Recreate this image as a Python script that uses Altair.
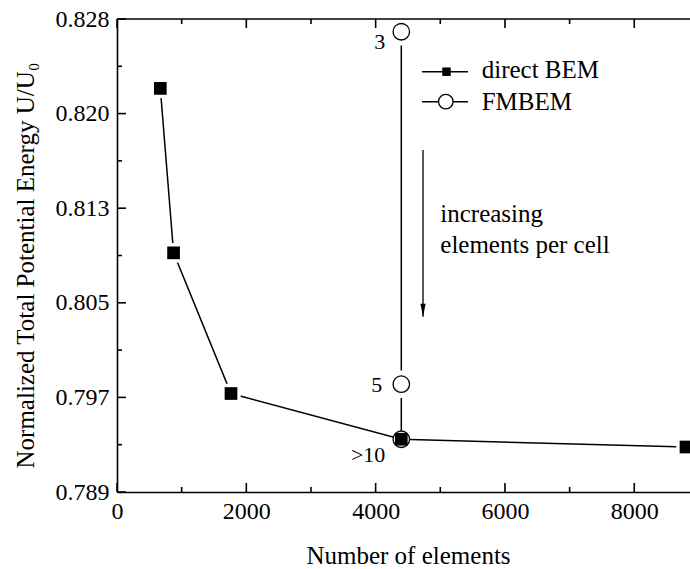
import altair as alt
import pandas as pd

# ---------------- data ----------------
direct_x = [670, 875, 1763, 4397, 8800]
direct_y = [0.82228, 0.80872, 0.79712, 0.79335, 0.79271]

fm_x = [4397, 4397, 4397]
fm_y = [0.82695, 0.79789, 0.79335]
fm_labels = ["3", "5", ">10"]

x_major = [0, 2000, 4000, 6000, 8000]
x_minor = [1000, 3000, 5000, 7000]
y_major = [0.789, 0.7968, 0.8046, 0.8124, 0.8202, 0.828]
y_minor = [0.7929, 0.8007, 0.8085, 0.8163, 0.8241]
y_labels = ["0.789", "0.797", "0.805", "0.813", "0.820", "0.828"]

arrow_x = [4733, 4733]
arrow_y = [0.81719, 0.80344]
note_x = [5000]
note_y = [0.81125]
note_text = ["increasing", "elements per cell"]

legend_names = ["direct BEM", "FMBEM"]

# ---------------- layout ----------------
W, H = 573, 473
FONT = "Liberation Serif"
xs = alt.Scale(domain=[0, 8862], nice=False, zero=False)
ys = alt.Scale(domain=[0.789, 0.828], nice=False, zero=False)

direct = pd.DataFrame({"x": direct_x, "y": direct_y, "i": range(len(direct_x))})
fm = pd.DataFrame({"x": fm_x, "y": fm_y, "label": fm_labels, "i": range(len(fm_x))})

lab_lookup = "[" + ",".join("'%s'" % s for s in y_labels) + "]"
y_label_expr = lab_lookup + "[round((datum.value - 0.789) / 0.0078)]"

x_axis = alt.Axis(values=x_major, format="d", ticks=False, grid=False, labelFont=FONT,
                  labelFontSize=24, labelColor="black", labelPadding=7, domainColor="black",
                  domainWidth=1.6, labelFlush=False, labelOverlap=False,
                  title="Number of elements", titleFont=FONT, titleFontSize=25,
                  titleFontWeight="normal", titleColor="black", titleX=291, titleY=71,
                  titleBaseline="alphabetic", titleAlign="center")
y_axis = alt.Axis(values=y_major, labelExpr=y_label_expr, ticks=False, grid=False,
                  labelFont=FONT, labelFontSize=24, labelColor="black", labelPadding=8,
                  labelFlush=False, labelOverlap=False,
                  domainColor="black", domainWidth=1.6,
                  title="Normalized Total Potential Energy U/U\u2080", titleFont=FONT,
                  titleFontSize=25, titleFontWeight="normal", titleColor="black",
                  titleX=-84, titleY=246, titleBaseline="alphabetic", titleAlign="center",
                  titleAngle=270)

def XF(field="x"):
    return alt.X(field + ":Q", scale=xs, axis=x_axis)

def YF(field="y"):
    return alt.Y(field + ":Q", scale=ys, axis=y_axis)

direct_line = alt.Chart(direct).mark_line(color="black", strokeWidth=1.5).encode(
    x=XF(), y=YF(), order="i:Q")
fm_line = alt.Chart(fm).mark_line(color="black", strokeWidth=1.5).encode(
    x=XF(), y=YF(), order="i:Q")

fm_halo = alt.Chart(fm).transform_filter(alt.datum.label != ">10").mark_point(
    shape="circle", filled=True, color="white", opacity=1, size=760).encode(x=XF(), y=YF())
sq_halo = alt.Chart(direct).transform_filter(alt.datum.x != fm_x[-1]).mark_point(
    shape="square", filled=True, color="white", opacity=1, size=380).encode(x=XF(), y=YF())

fm_pts = alt.Chart(fm).mark_point(shape="circle", filled=True, fill="white", stroke="black",
                                  strokeWidth=1.3, opacity=1, size=272).encode(x=XF(), y=YF())
sq_pts = alt.Chart(direct).mark_point(shape="square", filled=True, color="black",
                                      opacity=1, size=161).encode(x=XF(), y=YF())

def fm_text(lbl, dx, dy):
    return alt.Chart(fm).transform_filter(alt.datum.label == lbl).mark_text(
        font=FONT, fontSize=22, color="black", align="right", baseline="alphabetic",
        dx=dx, dy=dy).encode(x=XF(), y=YF(), text="label:N")

t3 = fm_text("3", -16, 17)
t5 = fm_text("5", -19, 8)
t10 = fm_text(">10", -16, 23)

arrow_df = pd.DataFrame({"x": [arrow_x[0]], "y": [arrow_y[0]], "xe": [arrow_x[1]], "ye": [arrow_y[1]]})
arrow_line = alt.Chart(arrow_df).mark_rule(color="black", strokeWidth=1.3).encode(
    x=XF(), y=YF(), y2="ye:Q")
arrow_head = alt.Chart(arrow_df).mark_point(
    shape="M-0.4,-2L0.4,-2L0,0Z", filled=True, color="black", opacity=1, size=169).encode(
    x=XF("xe"), y=YF("ye"))

note_df = pd.DataFrame({"x": note_x, "y": note_y, "t": [note_text]})
note = alt.Chart(note_df).mark_text(font=FONT, fontSize=25, color="black", align="left",
                                    baseline="alphabetic", lineHeight=31).encode(
    x=XF(), y=YF(), text="t")

# inward ticks
def xticks(vals, length):
    d = pd.DataFrame({"x": vals})
    bot = alt.Chart(d).mark_rule(color="black", strokeWidth=1.6).encode(
        x=XF(), y=alt.value(H), y2=alt.value(H - length))
    top = alt.Chart(d).mark_rule(color="black", strokeWidth=1.6).encode(
        x=XF(), y=alt.value(0), y2=alt.value(length))
    return [bot, top]

def yticks(vals, length):
    d = pd.DataFrame({"y": vals})
    return alt.Chart(d).mark_rule(color="black", strokeWidth=1.6).encode(
        y=YF(), x=alt.value(0), x2=alt.value(length))

top_border = alt.Chart(pd.DataFrame({"x": [0]})).mark_rule(color="black", strokeWidth=1.6).encode(
    x=alt.value(0), x2=alt.value(W), y=alt.value(0))

# legend
leg = pd.DataFrame({"name": legend_names})
def leg_sel(k):
    return alt.Chart(leg).transform_filter(alt.datum.name == legend_names[k])

leg_line1 = leg_sel(0).mark_rule(color="black", strokeWidth=1.5).encode(
    x=alt.value(305), x2=alt.value(351), y=alt.value(52.7))
leg_line2 = leg_sel(1).mark_rule(color="black", strokeWidth=1.5).encode(
    x=alt.value(305), x2=alt.value(351), y=alt.value(82.7))
leg_sq = leg_sel(0).mark_point(shape="square", filled=True, color="black", opacity=1,
                               size=72).encode(x=alt.value(329.5), y=alt.value(52.7))
leg_circ = leg_sel(1).mark_point(shape="circle", filled=True, fill="white", stroke="black",
                                 strokeWidth=1.3, opacity=1, size=210).encode(
    x=alt.value(328.8), y=alt.value(82.7))
leg_t1 = leg_sel(0).mark_text(font=FONT, fontSize=25, color="black", align="left",
                              baseline="alphabetic").encode(
    x=alt.value(364.7), y=alt.value(59.3), text="name:N")
leg_t2 = leg_sel(1).mark_text(font=FONT, fontSize=25, color="black", align="left",
                              baseline="alphabetic").encode(
    x=alt.value(364.7), y=alt.value(91), text="name:N")

layers = [direct_line, fm_line, sq_halo, fm_halo, fm_pts, sq_pts, t3, t5, t10,
          arrow_line, arrow_head, note]
layers += xticks(x_major, 9) + xticks(x_minor, 5)
layers += [yticks(y_major, 9), yticks(y_minor, 5), top_border,
           leg_line1, leg_line2, leg_sq, leg_circ, leg_t1, leg_t2]

chart = alt.layer(*layers).properties(
    width=W, height=H,
    autosize=alt.AutoSizeParams(type="none"),
    padding={"left": 117, "top": 19, "right": 0, "bottom": 77},
    background="white",
).configure_view(stroke=None)

chart.save("out.html", embed_options={"renderer": "svg", "actions": False})
